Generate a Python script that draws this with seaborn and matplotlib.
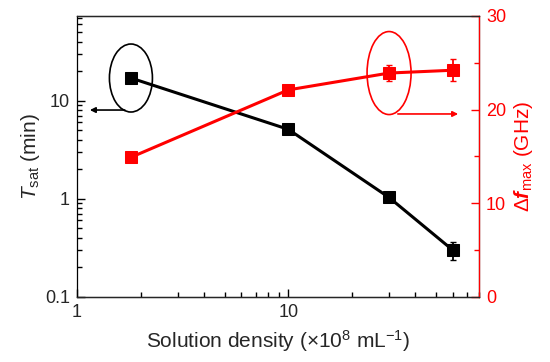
import numpy as np
import pandas as pd
import seaborn as sns
import matplotlib
matplotlib.use("Agg")
import matplotlib.pyplot as plt
from matplotlib.patches import Ellipse
from matplotlib.transforms import ScaledTranslation
from matplotlib.ticker import LogLocator, NullFormatter

# data
density = [1.8, 10, 30, 60]
t_sat = [17.0, 5.1, 1.03, 0.30]
t_sat_err = [0.0, 0.0, 0.0, 0.06]
df_max = [14.9, 22.1, 23.9, 24.2]
df_max_err = [0.0, 0.4, 0.9, 1.2]

sns.set_style("ticks")
plt.rcParams["font.family"] = ["Liberation Sans", "DejaVu Sans"]
plt.rcParams["mathtext.fontset"] = "custom"
plt.rcParams["mathtext.rm"] = "Liberation Sans"
plt.rcParams["mathtext.it"] = "Liberation Sans:italic"
plt.rcParams["mathtext.bf"] = "Liberation Sans:bold"
plt.rcParams["mathtext.bfit"] = "Liberation Sans:italic:bold"

df = pd.DataFrame({"density": density, "t_sat": t_sat, "t_err": t_sat_err,
                   "df_max": df_max, "df_err": df_max_err})

fig = plt.figure(figsize=(5.5, 3.62), dpi=100)
ax = fig.add_axes([0.14, 0.18, 0.731, 0.776])
ax2 = ax.twinx()

# black series (left, log)
ax.errorbar(df["density"], df["t_sat"], yerr=df["t_err"], fmt="none",
            ecolor="black", elinewidth=1.3, capsize=2.5, zorder=2)
sns.lineplot(data=df, x="density", y="t_sat", ax=ax, color="black",
             marker="s", markersize=9, markeredgecolor="black",
             linewidth=2.2, zorder=3)

# red series (right, linear)
ax2.errorbar(df["density"], df["df_max"], yerr=df["df_err"], fmt="none",
             ecolor="red", elinewidth=1.3, capsize=2.5, zorder=2)
sns.lineplot(data=df, x="density", y="df_max", ax=ax2, color="red",
             marker="s", markersize=9, markeredgecolor="red",
             linewidth=2.2, zorder=3)

ax.set_xscale("log")
ax.set_yscale("log")
ax.set_xlim(1, 80)
ax.set_ylim(0.1, 73)
ax2.set_ylim(0, 30)
ax2.set_yticks([0, 10, 20, 30])
ax2.set_yticks([5, 15, 25], minor=True)

ax.set_xticks([1, 10])
ax.set_xticklabels(["1", "10"])
ax.set_yticks([0.1, 1, 10])
ax.set_yticklabels(["0.1", "1", "10"])
for axis in (ax.xaxis, ax.yaxis):
    axis.set_minor_locator(LogLocator(base=10, subs=np.arange(2, 10), numticks=20))
    axis.set_minor_formatter(NullFormatter())

ax.tick_params(axis="both", which="major", direction="in", length=6,
               width=1.0, color="black", labelsize=13, pad=5)
ax.tick_params(axis="both", which="minor", direction="in", length=3.5,
               width=1.0, color="black")
ax2.tick_params(axis="y", which="major", direction="in", length=6,
                width=1.0, colors="red", labelsize=13, pad=5)
ax2.tick_params(axis="y", which="minor", direction="in", length=3.5,
                width=1.0, colors="red")

for sp in ax.spines.values():
    sp.set_linewidth(0.9)
    sp.set_color("black")
for sp in ax2.spines.values():
    sp.set_linewidth(0.9)
ax2.spines["right"].set_color("red")
ax2.spines["left"].set_visible(False)

ax.set_xlabel(r"Solution density ($\times$10$^{8}$ mL$^{-1}$)", fontsize=15, labelpad=5)
ax.set_ylabel(r"$T_{\mathrm{sat}}$ (min)", fontsize=15, labelpad=2)
ax2.set_ylabel(r"$\Delta\mathbfit{f}_{\mathrm{max}}$ (GHz)", fontsize=15,
               color="red", labelpad=4)

# ellipses around the highlighted points
tr1 = fig.dpi_scale_trans + ScaledTranslation(density[0], t_sat[0], ax.transData)
ax.add_patch(Ellipse((0, 0), 0.43, 0.68, transform=tr1, fill=False,
                     edgecolor="black", linewidth=1.2, clip_on=False))
tr2 = fig.dpi_scale_trans + ScaledTranslation(density[2], df_max[2], ax2.transData)
ax2.add_patch(Ellipse((0, 0), 0.44, 0.83, transform=tr2, fill=False,
                      edgecolor="red", linewidth=1.2, clip_on=False))

# arrows pointing to the matching axis
ax.annotate("", xy=(0.032, 0.665), xytext=(0.119, 0.665),
            xycoords="axes fraction",
            arrowprops=dict(arrowstyle="-|>", color="black", lw=1.2,
                            mutation_scale=8, shrinkA=0, shrinkB=0))
ax2.annotate("", xy=(0.948, 0.651), xytext=(0.798, 0.651),
             xycoords="axes fraction",
             arrowprops=dict(arrowstyle="-|>", color="red", lw=1.2,
                             mutation_scale=8, shrinkA=0, shrinkB=0))

fig.savefig("out.png", dpi=100)
